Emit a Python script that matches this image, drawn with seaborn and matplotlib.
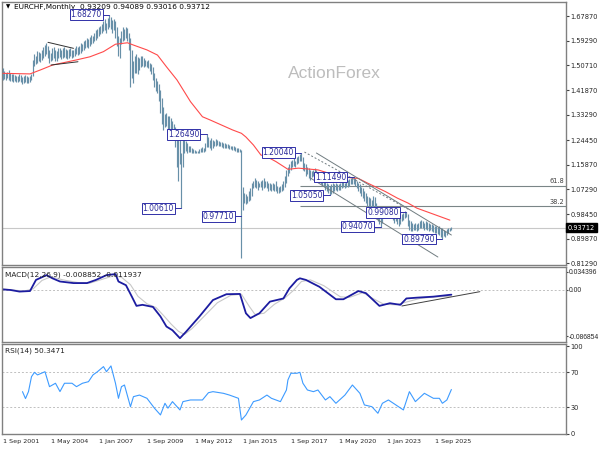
import numpy as np
import matplotlib
matplotlib.use('Agg')
import matplotlib.pyplot as plt
import seaborn as sns

# monthly bars, month 0 = Sep 2001 (high / low)
highs = ([1.495, 1.487, 1.480, 1.482, 1.488, 1.479, 1.476, 1.474, 1.472, 1.470, 1.468, 1.475, 1.472, 1.465, 1.470, 1.472, 1.468, 1.466, 1.470, 1.476]
         + [1.525, 1.545, 1.540, 1.555, 1.552, 1.548, 1.560, 1.570, 1.578, 1.585, 1.575]
         + [1.560, 1.550, 1.565, 1.570, 1.560, 1.555, 1.568, 1.565, 1.560, 1.566, 1.570, 1.562, 1.558, 1.562, 1.566, 1.560, 1.558, 1.565, 1.572, 1.570]
         + [1.575, 1.585, 1.580, 1.590, 1.595, 1.600, 1.598, 1.605, 1.612, 1.610, 1.620, 1.628, 1.635, 1.640, 1.645, 1.650]
         + [1.660, 1.668, 1.655, 1.672, 1.6827, 1.675, 1.665, 1.670, 1.662, 1.640, 1.610, 1.600, 1.625, 1.640, 1.635, 1.642, 1.638, 1.620]
         + [1.600, 1.560, 1.520, 1.540, 1.545, 1.535, 1.530, 1.540, 1.538, 1.530, 1.525, 1.520, 1.525, 1.515, 1.510]
         + [1.500, 1.480, 1.460, 1.450, 1.440, 1.420, 1.390, 1.360, 1.335, 1.340, 1.330, 1.330, 1.320, 1.310, 1.300, 1.290, 1.270, 1.250, 1.250]
         + [1.200]
         + [1.248, 1.250, 1.240, 1.235, 1.225, 1.222, 1.215, 1.212, 1.208, 1.206, 1.205, 1.212, 1.215, 1.220, 1.215, 1.235]
         + [1.2649, 1.255, 1.245, 1.250, 1.245, 1.240, 1.248, 1.245, 1.240, 1.238, 1.236, 1.234, 1.235, 1.232, 1.230, 1.228, 1.225, 1.224, 1.222, 1.220, 1.218, 1.215, 1.212]
         + [1.210]
         + [1.080, 1.060, 1.055, 1.050, 1.065, 1.075, 1.095, 1.100, 1.110, 1.105, 1.100, 1.095, 1.100, 1.105, 1.110, 1.100, 1.100, 1.095, 1.095, 1.090,
            1.095, 1.090, 1.100, 1.085, 1.080, 1.085, 1.090, 1.100, 1.120, 1.140, 1.150, 1.160, 1.170, 1.175, 1.180, 1.172, 1.185, 1.190, 1.195, 1.2004]
         + [1.185, 1.165, 1.160, 1.150, 1.145, 1.140, 1.135, 1.140, 1.145, 1.140, 1.130, 1.125, 1.120, 1.110, 1.105, 1.100, 1.095, 1.090, 1.085, 1.090,
            1.095, 1.090, 1.095, 1.090, 1.090, 1.095, 1.100, 1.105, 1.095, 1.100, 1.105, 1.108, 1.110, 1.112, 1.1149]
         + [1.110, 1.100, 1.095, 1.090, 1.080, 1.075, 1.065, 1.060, 1.050, 1.045, 1.040, 1.035, 1.050, 1.045, 1.025, 1.010, 0.995, 0.990, 0.995, 1.000,
            1.005, 0.995, 0.998, 0.999]
         + [0.995, 0.990, 0.985, 0.990, 0.985, 0.975, 0.975, 0.985, 0.990, 0.995, 0.9908, 0.985, 0.965, 0.960, 0.955, 0.950, 0.955, 0.950, 0.955, 0.960,
            0.965, 0.960, 0.955, 0.960, 0.958, 0.955, 0.950, 0.952, 0.948, 0.945, 0.945, 0.940, 0.942, 0.938, 0.935, 0.930, 0.925, 0.932, 0.935, 0.938, 0.94089])
lows = ([1.455, 1.458, 1.453, 1.460, 1.455, 1.450, 1.452, 1.448, 1.450, 1.447, 1.449, 1.452, 1.446, 1.441, 1.445, 1.448, 1.443, 1.445, 1.448, 1.455]
        + [1.470, 1.505, 1.510, 1.515, 1.520, 1.518, 1.525, 1.530, 1.540, 1.545, 1.530]
        + [1.515, 1.520, 1.525, 1.530, 1.522, 1.520, 1.530, 1.535, 1.528, 1.530, 1.535, 1.530, 1.528, 1.532, 1.538, 1.530, 1.534, 1.540, 1.545, 1.543]
        + [1.545, 1.550, 1.555, 1.560, 1.565, 1.570, 1.568, 1.575, 1.580, 1.585, 1.590, 1.595, 1.600, 1.608, 1.615, 1.620]
        + [1.625, 1.630, 1.618, 1.635, 1.640, 1.632, 1.620, 1.628, 1.600, 1.575, 1.540, 1.532, 1.580, 1.590, 1.595, 1.600, 1.590, 1.560]
        + [1.430, 1.460, 1.445, 1.480, 1.480, 1.475, 1.490, 1.500, 1.505, 1.500, 1.505, 1.500, 1.495, 1.485, 1.475]
        + [1.455, 1.430, 1.415, 1.410, 1.380, 1.340, 1.300, 1.280, 1.290, 1.295, 1.260, 1.275, 1.280, 1.250, 1.245, 1.220, 1.150, 1.100, 1.160]
        + [1.0061]
        + [1.150, 1.200, 1.205, 1.200, 1.202, 1.203, 1.200, 1.200, 1.200, 1.200, 1.200, 1.200, 1.201, 1.203, 1.204, 1.205]
        + [1.220, 1.220, 1.215, 1.210, 1.215, 1.225, 1.225, 1.228, 1.225, 1.222, 1.220, 1.218, 1.215, 1.218, 1.215, 1.212, 1.212, 1.210, 1.208, 1.206, 1.204, 1.203, 1.201]
        + [0.830]
        + [1.000, 1.025, 1.020, 1.025, 1.030, 1.035, 1.050, 1.075, 1.080, 1.075, 1.070, 1.080, 1.080, 1.070, 1.075, 1.080, 1.075, 1.065, 1.070, 1.065,
           1.070, 1.065, 1.065, 1.060, 1.060, 1.062, 1.065, 1.070, 1.080, 1.095, 1.120, 1.130, 1.140, 1.150, 1.155, 1.150, 1.160, 1.165, 1.170, 1.170]
        + [1.140, 1.135, 1.120, 1.125, 1.110, 1.105, 1.115, 1.118, 1.120, 1.115, 1.105, 1.100, 1.090, 1.085, 1.080, 1.070, 1.065, 1.060, 1.0505, 1.055,
           1.060, 1.065, 1.070, 1.065, 1.070, 1.070, 1.075, 1.080, 1.075, 1.080, 1.080, 1.085, 1.090, 1.090, 1.092]
        + [1.085, 1.075, 1.065, 1.060, 1.050, 1.040, 1.030, 1.025, 1.015, 1.000, 0.990, 0.995, 1.000, 1.005, 0.990, 0.960, 0.950, 0.9407, 0.955, 0.970,
           0.975, 0.975, 0.978, 0.980]
        + [0.970, 0.965, 0.955, 0.960, 0.950, 0.945, 0.950, 0.960, 0.965, 0.970, 0.975, 0.945, 0.930, 0.925, 0.925, 0.928, 0.930, 0.925, 0.930, 0.935,
           0.938, 0.935, 0.930, 0.932, 0.930, 0.925, 0.928, 0.925, 0.922, 0.920, 0.918, 0.915, 0.912, 0.905, 0.8979, 0.910, 0.905, 0.912, 0.918, 0.925, 0.93016])
last_ohlc = [0.93209, 0.94089, 0.93016, 0.93712]

# red moving average
ma_months = [0, 18, 25, 33, 49, 58, 67, 75, 83, 87, 96, 103, 109, 116, 123, 125, 133, 138, 153, 159, 162, 167, 172, 176, 182, 190, 197, 210, 225, 237, 243, 255, 263, 270, 276, 287, 298]
ma_values = [1.478, 1.476, 1.490, 1.507, 1.525, 1.536, 1.554, 1.580, 1.585, 1.577, 1.560, 1.542, 1.501, 1.455, 1.396, 1.379, 1.326, 1.315, 1.280, 1.268,
             1.255, 1.227, 1.192, 1.186, 1.169, 1.142, 1.146, 1.140, 1.116, 1.110, 1.094, 1.064, 1.041, 1.024, 1.006, 0.985, 0.964]

macd_months = [0, 5, 11, 18, 22, 29, 33, 38, 47, 56, 62, 69, 75, 77, 82, 86, 89, 93, 100, 105, 109, 113, 118, 122, 131, 140, 149, 158, 162, 165,
               171, 178, 187, 191, 196, 198, 202, 211, 222, 227, 237, 242, 251, 258, 265, 269, 276, 287, 299]
macd_values = [0.001, 0.000, -0.003, -0.002, 0.019, 0.028, 0.022, 0.016, 0.013, 0.013, 0.019, 0.028, 0.030, 0.016, 0.009, -0.013, -0.030, -0.028,
               -0.032, -0.050, -0.069, -0.076, -0.091, -0.079, -0.050, -0.019, -0.008, -0.0075, -0.044, -0.053, -0.044, -0.022, -0.016, 0.003,
               0.019, 0.022, 0.019, 0.006, -0.0175, -0.0175, -0.002, -0.006, -0.030, -0.025, -0.028, -0.016, -0.0145, -0.0126, -0.008852]
signal_months = [0, 6, 14, 20, 26, 32, 40, 50, 58, 66, 74, 79, 85, 90, 96, 102, 107, 112, 117, 121, 126, 134, 143, 152, 159, 164, 168, 174, 181,
                 188, 194, 199, 205, 214, 225, 231, 240, 246, 254, 262, 270, 278, 288, 299]
signal_values = [0.002, 0.000, -0.002, 0.002, 0.018, 0.025, 0.019, 0.014, 0.013, 0.020, 0.027, 0.024, 0.010, -0.012, -0.026, -0.033, -0.048,
                 -0.064, -0.078, -0.084, -0.073, -0.050, -0.024, -0.010, -0.008, -0.030, -0.046, -0.044, -0.027, -0.015, 0.000, 0.016, 0.019,
                 0.008, -0.013, -0.014, -0.005, -0.015, -0.027, -0.028, -0.022, -0.016, -0.013, -0.011937]
macd_trend_months = [266, 318]
macd_trend_values = [-0.0302, -0.0032]

rsi_months = [13, 15, 17, 19, 21, 23, 28, 31, 35, 38, 41, 46, 49, 53, 57, 60, 63, 67, 69, 72, 75, 77, 79, 81, 85, 87, 91, 96, 101, 105, 108, 110,
              113, 118, 120, 125, 133, 137, 140, 147, 151, 157, 159, 162, 167, 171, 176, 179, 185, 189, 190, 192, 196, 198, 200, 203, 207, 210,
              215, 218, 222, 228, 233, 238, 241, 246, 250, 253, 257, 262, 267, 271, 275, 281, 287, 291, 293, 296, 299]
rsi_values = [47.9, 40, 48, 65, 70, 67, 70.7, 53.6, 57.5, 48, 57.5, 57.5, 53.6, 57.5, 59.3, 67, 70.7, 76.5, 70.7, 77.3, 57.5, 40.3, 53.6, 55.5,
              30.7, 42.2, 44, 40.3, 29, 21.3, 34.6, 29, 36.5, 27, 36.5, 38.4, 38.4, 46.7, 47.9, 46, 44, 40.3, 15.5, 21.3, 36.5, 38.4, 44, 40.3,
              36.5, 49.8, 61.3, 68.9, 68.9, 70, 57.5, 49.8, 47.9, 49.8, 38.4, 42.2, 34.6, 44, 55.5, 46, 32.7, 30.7, 23.2, 34.6, 38.4, 32.7, 27,
              47.9, 36.5, 46, 40.3, 40.3, 34.6, 38.4, 50.3471]

# price labels (value, bar month)
label_values = [1.6827, 1.2649, 1.0061, 0.9771, 1.2004, 1.1149, 1.0505, 0.9407, 0.9908, 0.8979]
label_months = [71, 136, 119, 159, 199, 234, 218, 252, 269, 293]

# drawn lines
tri_upper_m, tri_upper_p = [30, 47], [1.5866, 1.5656]
tri_lower_m, tri_lower_p = [32, 50], [1.5071, 1.5186]
chan_upper_m, chan_upper_p = [209, 299], [1.1990, 0.9119]
chan_lower_m, chan_lower_p = [205, 290], [1.1115, 0.8349]
chan_mid_m, chan_mid_p = [201, 271], [1.2025, 1.0000]
fib_names = ['61.8', '38.2']
fib_levels = [1.0850, 1.0140]
fib_start = 198

price_ticks = [1.6787, 1.5929, 1.5071, 1.4187, 1.3329, 1.2445, 1.1587, 1.0729, 0.9845, 0.8987, 0.8129]
macd_ticks = [0.034396, 0.0, -0.086854]
macd_tick_labels = ['0.034396', '0.00', '-0.086854']
rsi_ticks = [100, 70, 30, 0]
date_ticks = [0, 32, 64, 96, 128, 160, 192, 224, 256, 288]
date_labels = ['1 Sep 2001', '1 May 2004', '1 Jan 2007', '1 Sep 2009', '1 May 2012', '1 Jan 2015',
               '1 Sep 2017', '1 May 2020', '1 Jan 2023', '1 Sep 2025']

sns.set_style('white')
plt.rcParams['font.family'] = ['DejaVu Sans']

bar_col = '#6890A8'
lab_col = '#3030A8'
edge = '#808080'
x_lim = (-0.4, 375.3)

fig = plt.figure(figsize=(6, 4.5), dpi=100)
ax = fig.add_axes([0.004, 0.4111, 0.939, 0.5844])
ax_m = fig.add_axes([0.004, 0.2389, 0.939, 0.1667])
ax_r = fig.add_axes([0.004, 0.0356, 0.939, 0.1989])

months = np.arange(len(highs))

# ---- price panel
ax.axhline(last_ohlc[3], color='#C8C8C8', lw=0.8, zorder=1)
ax.vlines(months, lows, highs, color=bar_col, lw=0.85, zorder=3)
sns.lineplot(x=ma_months, y=ma_values, ax=ax, color='#FF4A4A', lw=0.8, legend=False, zorder=4)
for mm, pp in [(tri_upper_m, tri_upper_p), (tri_lower_m, tri_lower_p)]:
    ax.plot(mm, pp, color='#303030', lw=0.7, zorder=5)
ax.plot(chan_upper_m, chan_upper_p, color='#707C80', lw=0.7, zorder=5)
ax.plot(chan_lower_m, chan_lower_p, color='#707C80', lw=0.7, zorder=5)
ax.plot(chan_mid_m, chan_mid_p, color='#707C80', lw=0.7, ls=(0, (2, 2)), zorder=5)
for name, lev in zip(fib_names, fib_levels):
    ax.hlines(lev, fib_start, x_lim[1], color='#7A8587', lw=0.8, zorder=2)
    ax.text(x_lim[1] - 1, lev + 0.004, name, ha='right', va='bottom', fontsize=4.8, color='#404040')

for v, m in zip(label_values, label_months):
    ax.plot([m - 5, m], [v, v], color=lab_col, lw=0.7, zorder=6)
    ax.text(m - 15.5, v, '%.5f' % v, ha='center', va='center', fontsize=5.5, color='#2A2A9A', zorder=7,
            bbox=dict(boxstyle='square,pad=0.12', fc='white', ec=lab_col, lw=0.7))

ax.text(0.59, 0.73, 'ActionForex', transform=ax.transAxes, ha='center', va='center',
        fontsize=12.5, color='#BDBDBD', family='Liberation Sans')
ax.text(0.006, 0.981, '\u25bc', transform=ax.transAxes, ha='left', va='center', fontsize=4, color='black')
ax.text(0.02, 0.981, 'EURCHF,Monthly  ' + ' '.join('%.5f' % v for v in last_ohlc), transform=ax.transAxes,
        ha='left', va='center', fontsize=5.3, color='black')

ax.set_ylim(0.8069, 1.7277)
ax.set_yticks(price_ticks)
ax.set_yticklabels(['%.5f' % v for v in price_ticks])
ax.text(1.004, last_ohlc[3], '%.5f' % last_ohlc[3], transform=ax.get_yaxis_transform(), ha='left', va='center',
        fontsize=4.8, color='white', bbox=dict(boxstyle='square,pad=0.25', fc='black', ec='black'))

# ---- MACD panel
ax_m.axhline(0, color='#C0C0C0', lw=0.7, ls=(0, (2, 2)))
sns.lineplot(x=signal_months, y=signal_values, ax=ax_m, color='#C8C8C8', lw=0.8, legend=False)
sns.lineplot(x=macd_months, y=macd_values, ax=ax_m, color='#1C1CA0', lw=1.3, legend=False)
ax_m.plot(macd_trend_months, macd_trend_values, color='#404040', lw=0.7)
ax_m.set_ylim(-0.0991, 0.04245)
ax_m.set_yticks(macd_ticks)
ax_m.set_yticklabels(macd_tick_labels)
ax_m.text(0.005, 0.9, 'MACD(12,26,9) -0.008852 -0.011937', transform=ax_m.transAxes, ha='left', va='center',
          fontsize=5.3, color='#202020')

# ---- RSI panel
for lev in [70, 30]:
    ax_r.axhline(lev, color='#C0C0C0', lw=0.7, ls=(0, (2, 2)))
sns.lineplot(x=rsi_months, y=rsi_values, ax=ax_r, color='#3D9BFF', lw=0.8, legend=False)
ax_r.set_ylim(-0.46, 101.8)
ax_r.set_yticks(rsi_ticks)
ax_r.set_yticklabels([str(v) for v in rsi_ticks])
ax_r.text(0.005, 0.927, 'RSI(14) 50.3471', transform=ax_r.transAxes, ha='left', va='center',
          fontsize=5.3, color='#202020')
ax_r.set_xticks(date_ticks)
ax_r.set_xticklabels(date_labels)
plt.setp(ax_r.get_xticklabels(), ha='left')
ax_r.tick_params(axis='x', length=2, pad=1.5, labelsize=4.6, color='#404040')

for a in (ax, ax_m, ax_r):
    a.set_xlim(*x_lim)
    a.set_xlabel('')
    a.set_ylabel('')
    a.yaxis.tick_right()
    a.tick_params(axis='y', length=2, pad=1.5, labelsize=4.8, color='#404040')
    for s in a.spines.values():
        s.set_color(edge)
        s.set_linewidth(1.0)
for a in (ax, ax_m):
    a.set_xticks([])
# MACD values are long, a narrower face keeps them inside the picture
ax_m.tick_params(axis='y', length=1.5, pad=0.8, labelsize=4.9)
for t in ax_m.yaxis.get_major_ticks():
    t.label2.set_fontfamily('Liberation Sans')

fig.savefig('out.png', dpi=100, facecolor='white')
